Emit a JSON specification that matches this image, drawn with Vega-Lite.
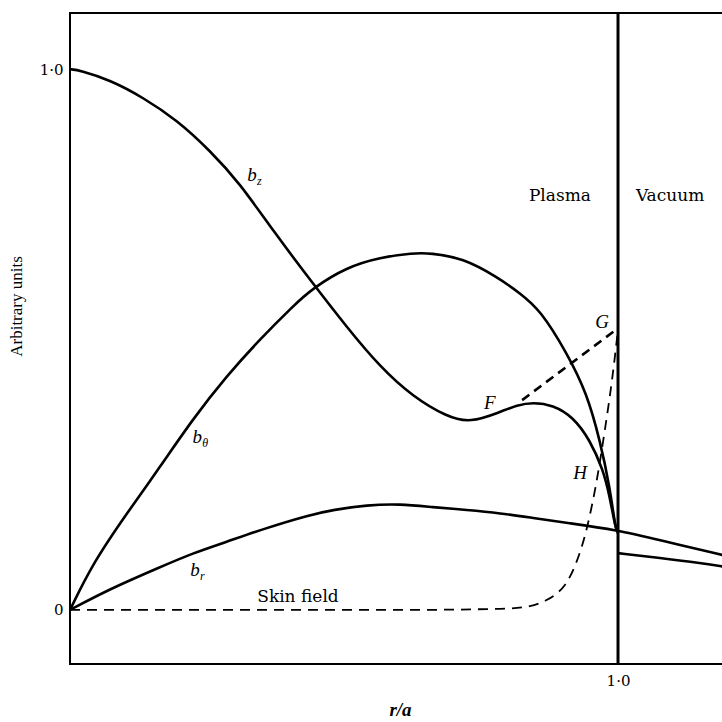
{
  "$schema": "https://vega.github.io/schema/vega-lite/v6.json",
  "autosize": "none",
  "width": 654,
  "height": 651,
  "padding": {"left": 70, "top": 13, "right": 0, "bottom": 58},
  "background": "white",
  "config": {
    "view": {"stroke": "black", "strokeWidth": 2},
    "font": "Liberation Serif",
    "axis": {"grid": false, "domain": false, "labelFont": "Liberation Serif", "titleFont": "Liberation Serif", "labelColor": "black", "titleColor": "black"}
  },
  "datasets": {
    "curves": [
      {"s": "bz", "x": 0, "y": 1.0},
      {"s": "bz", "x": 0.018, "y": 0.998},
      {"s": "bz", "x": 0.073, "y": 0.980},
      {"s": "bz", "x": 0.133, "y": 0.948},
      {"s": "bz", "x": 0.195, "y": 0.906},
      {"s": "bz", "x": 0.255, "y": 0.850},
      {"s": "bz", "x": 0.310, "y": 0.789},
      {"s": "bz", "x": 0.370, "y": 0.702},
      {"s": "bz", "x": 0.443, "y": 0.604},
      {"s": "bz", "x": 0.505, "y": 0.523},
      {"s": "bz", "x": 0.566, "y": 0.449},
      {"s": "bz", "x": 0.626, "y": 0.394},
      {"s": "bz", "x": 0.688, "y": 0.357},
      {"s": "bz", "x": 0.730, "y": 0.346},
      {"s": "bz", "x": 0.785, "y": 0.366},
      {"s": "bz", "x": 0.816, "y": 0.379},
      {"s": "bz", "x": 0.845, "y": 0.384},
      {"s": "bz", "x": 0.881, "y": 0.379},
      {"s": "bz", "x": 0.918, "y": 0.357},
      {"s": "bz", "x": 0.949, "y": 0.314},
      {"s": "bz", "x": 0.973, "y": 0.259},
      {"s": "bz", "x": 0.985, "y": 0.209},
      {"s": "bz", "x": 0.995, "y": 0.153},
      {"s": "bz", "x": 1.0, "y": 0.142},
      {"s": "bv", "x": 1.0, "y": 0.105},
      {"s": "bv", "x": 1.077, "y": 0.096},
      {"s": "bv", "x": 1.15, "y": 0.087},
      {"s": "bv", "x": 1.193, "y": 0.080},
      {"s": "bt", "x": 0, "y": 0},
      {"s": "bt", "x": 0.042, "y": 0.087},
      {"s": "bt", "x": 0.104, "y": 0.179},
      {"s": "bt", "x": 0.164, "y": 0.264},
      {"s": "bt", "x": 0.224, "y": 0.353},
      {"s": "bt", "x": 0.286, "y": 0.433},
      {"s": "bt", "x": 0.347, "y": 0.501},
      {"s": "bt", "x": 0.407, "y": 0.562},
      {"s": "bt", "x": 0.443, "y": 0.595},
      {"s": "bt", "x": 0.505, "y": 0.634},
      {"s": "bt", "x": 0.566, "y": 0.652},
      {"s": "bt", "x": 0.626, "y": 0.660},
      {"s": "bt", "x": 0.657, "y": 0.660},
      {"s": "bt", "x": 0.717, "y": 0.651},
      {"s": "bt", "x": 0.779, "y": 0.616},
      {"s": "bt", "x": 0.821, "y": 0.586},
      {"s": "bt", "x": 0.858, "y": 0.555},
      {"s": "bt", "x": 0.907, "y": 0.475},
      {"s": "bt", "x": 0.943, "y": 0.401},
      {"s": "bt", "x": 0.967, "y": 0.314},
      {"s": "bt", "x": 0.985, "y": 0.227},
      {"s": "bt", "x": 0.995, "y": 0.153},
      {"s": "bt", "x": 0.998, "y": 0.148},
      {"s": "br", "x": 0, "y": 0},
      {"s": "br", "x": 0.073, "y": 0.039},
      {"s": "br", "x": 0.164, "y": 0.079},
      {"s": "br", "x": 0.224, "y": 0.105},
      {"s": "br", "x": 0.286, "y": 0.126},
      {"s": "br", "x": 0.347, "y": 0.148},
      {"s": "br", "x": 0.438, "y": 0.176},
      {"s": "br", "x": 0.480, "y": 0.185},
      {"s": "br", "x": 0.542, "y": 0.194},
      {"s": "br", "x": 0.602, "y": 0.196},
      {"s": "br", "x": 0.662, "y": 0.190},
      {"s": "br", "x": 0.724, "y": 0.185},
      {"s": "br", "x": 0.785, "y": 0.179},
      {"s": "br", "x": 0.845, "y": 0.170},
      {"s": "br", "x": 0.907, "y": 0.161},
      {"s": "br", "x": 0.998, "y": 0.148},
      {"s": "br", "x": 1.077, "y": 0.129},
      {"s": "br", "x": 1.193, "y": 0.101}
    ],
    "fg": [
      {"x": 0.825, "y": 0.388},
      {"x": 1.0, "y": 0.521}
    ],
    "skin": [
      {"x": 0, "y": 0},
      {"x": 0.602, "y": 0},
      {"x": 0.785, "y": 0.002},
      {"x": 0.839, "y": 0.007},
      {"x": 0.867, "y": 0.017},
      {"x": 0.885, "y": 0.028},
      {"x": 0.903, "y": 0.046},
      {"x": 0.922, "y": 0.083},
      {"x": 0.940, "y": 0.139},
      {"x": 0.958, "y": 0.222},
      {"x": 0.976, "y": 0.333},
      {"x": 0.989, "y": 0.425},
      {"x": 1.0, "y": 0.518}
    ],
    "blabels": [
      {"b": "b", "sub": "z", "x": 0.332, "y": 0.804},
      {"b": "b", "sub": "θ", "x": 0.232, "y": 0.320},
      {"b": "b", "sub": "r", "x": 0.228, "y": 0.074}
    ],
    "letters": [
      {"t": "F", "x": 0.766, "y": 0.383},
      {"t": "G", "x": 0.971, "y": 0.532},
      {"t": "H", "x": 0.931, "y": 0.253}
    ],
    "words": [
      {"t": "Skin field", "x": 0.416, "y": 0.024},
      {"t": "Plasma", "x": 0.894, "y": 0.765},
      {"t": "Vacuum", "x": 1.095, "y": 0.765}
    ],
    "boundary": [
      {"x": 1}
    ]
  },
  "layer": [
    {
      "data": {"name": "curves"},
      "mark": {"type": "line", "interpolate": "basis", "stroke": "black", "strokeWidth": 2.6},
      "encoding": {
        "x": {"field": "x", "type": "quantitative", "scale": {"domain": [0, 1.1934], "nice": false, "zero": false},
          "axis": {"values": [1], "labelExpr": "'1·0'", "labelFont": "DejaVu Serif", "labelFontSize": 15, "ticks": false, "labelPadding": 9, "title": "r/a", "titleFontSize": 19, "titleFontStyle": "italic", "titleFontWeight": "bold", "titlePadding": 12, "titleX": 330}},
        "y": {"field": "y", "type": "quantitative", "scale": {"domain": [-0.1, 1.104], "nice": false, "zero": false},
          "axis": {"values": [0, 1], "labelExpr": "datum.value == 0 ? '0' : '1·0'", "labelFont": "DejaVu Serif", "labelFontSize": 15, "ticks": false, "labelPadding": 7, "title": "Arbitrary units", "titleFontSize": 17, "titleFontWeight": "normal", "titlePadding": 14, "titleY": 293}},
        "detail": {"field": "s"}
      }
    },
    {
      "data": {"name": "fg"},
      "mark": {"type": "line", "stroke": "black", "strokeWidth": 2.6, "strokeDash": [9, 6]},
      "encoding": {"x": {"field": "x", "type": "quantitative"}, "y": {"field": "y", "type": "quantitative"}}
    },
    {
      "data": {"name": "skin"},
      "mark": {"type": "line", "interpolate": "monotone", "stroke": "black", "strokeWidth": 1.8, "strokeDash": [10, 7]},
      "encoding": {"x": {"field": "x", "type": "quantitative"}, "y": {"field": "y", "type": "quantitative"}}
    },
    {
      "data": {"name": "boundary"},
      "mark": {"type": "rule", "stroke": "black", "strokeWidth": 3},
      "encoding": {"x": {"field": "x", "type": "quantitative"}}
    },
    {
      "data": {"name": "blabels"},
      "mark": {"type": "text", "font": "Liberation Serif", "fontStyle": "italic", "fontSize": 19, "align": "center", "baseline": "middle"},
      "encoding": {"x": {"field": "x", "type": "quantitative"}, "y": {"field": "y", "type": "quantitative"}, "text": {"field": "b"}}
    },
    {
      "data": {"name": "blabels"},
      "mark": {"type": "text", "font": "Liberation Serif", "fontStyle": "italic", "fontSize": 12, "align": "left", "baseline": "middle", "dx": 5, "dy": 6},
      "encoding": {"x": {"field": "x", "type": "quantitative"}, "y": {"field": "y", "type": "quantitative"}, "text": {"field": "sub"}}
    },
    {
      "data": {"name": "letters"},
      "mark": {"type": "text", "font": "Liberation Serif", "fontStyle": "italic", "fontSize": 19, "align": "center", "baseline": "middle"},
      "encoding": {"x": {"field": "x", "type": "quantitative"}, "y": {"field": "y", "type": "quantitative"}, "text": {"field": "t"}}
    },
    {
      "data": {"name": "words"},
      "mark": {"type": "text", "font": "DejaVu Serif", "fontSize": 17, "align": "center", "baseline": "middle"},
      "encoding": {"x": {"field": "x", "type": "quantitative"}, "y": {"field": "y", "type": "quantitative"}, "text": {"field": "t"}}
    }
  ]
}
